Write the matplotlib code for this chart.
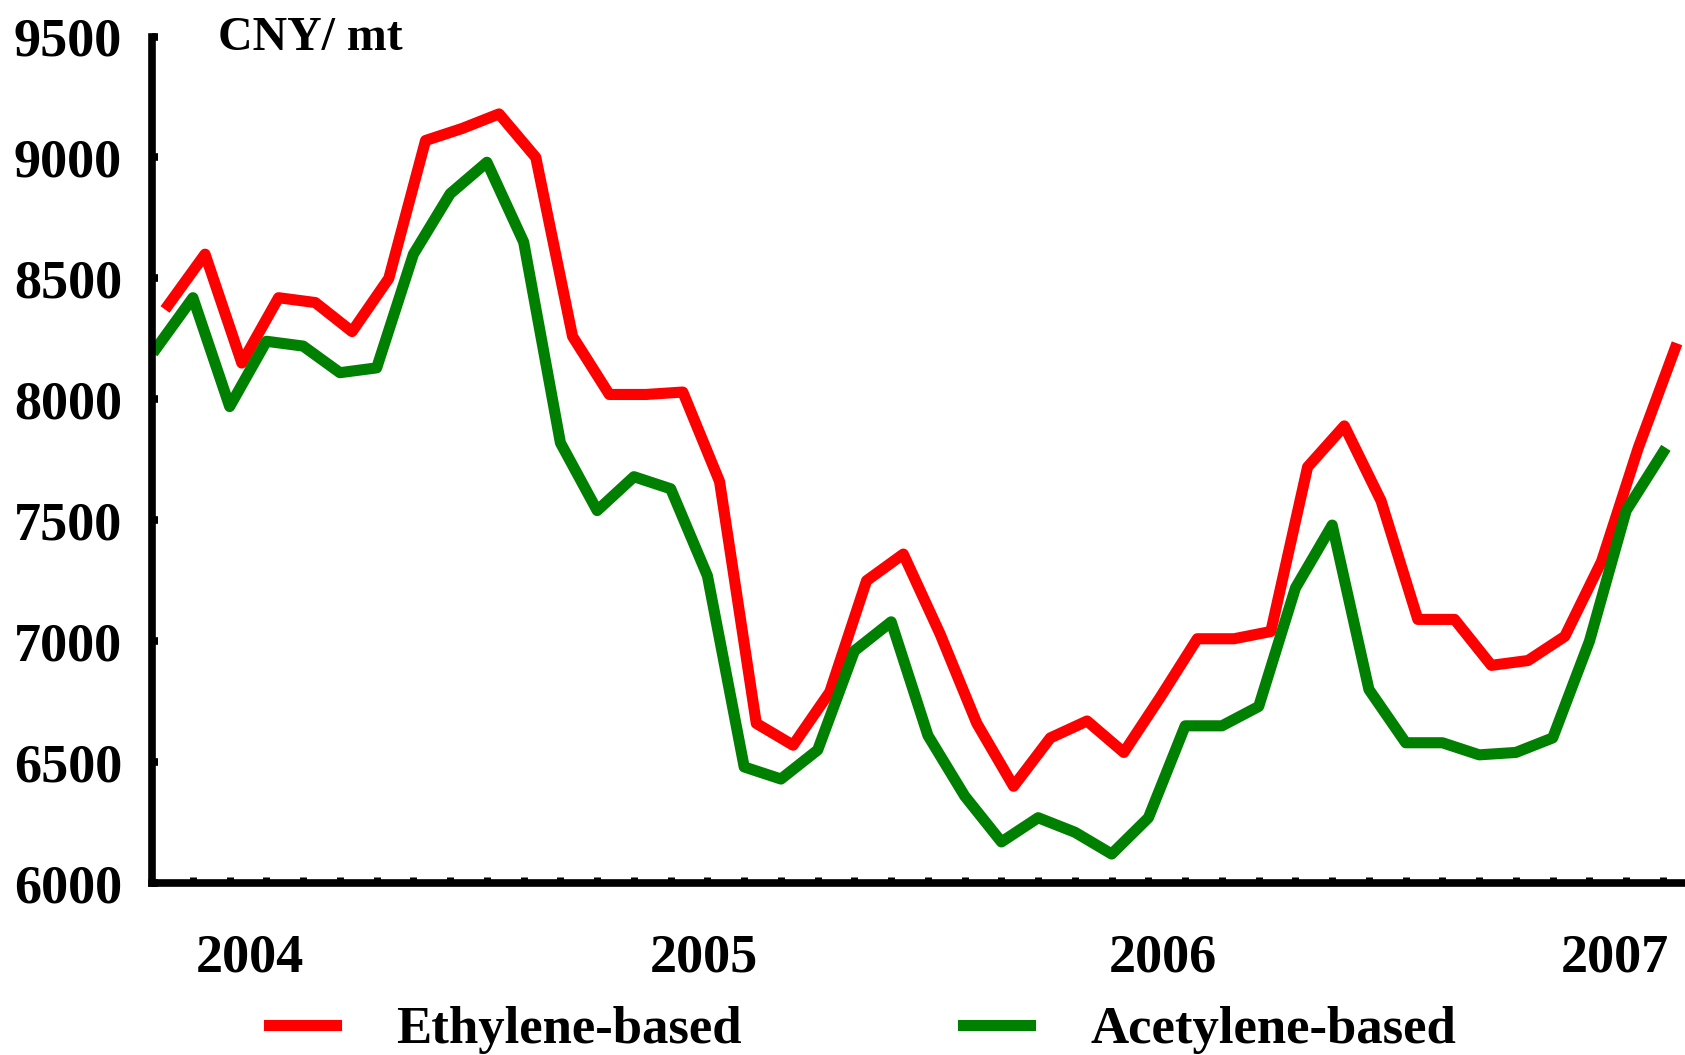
import numpy as np
import matplotlib
matplotlib.use('Agg')
import matplotlib.pyplot as plt

plt.rcParams['font.family'] = ['Liberation Serif', 'DejaVu Serif']
plt.rcParams['font.weight'] = 'bold'

# monthly prices, CNY/mt, Jan 2004 .. 2007
ethylene = [8390, 8600, 8150, 8420, 8400, 8280, 8500, 9070, 9120, 9180,
            9000, 8260, 8020, 8020, 8030, 7660, 6660, 6570, 6790, 7250,
            7360, 7030, 6660, 6400, 6600, 6670, 6540, 6770, 7010, 7010,
            7040, 7720, 7890, 7580, 7090, 7090, 6900, 6920, 7020, 7330,
            7800, 8210]
acetylene = [8210, 8420, 7970, 8240, 8220, 8110, 8130, 8600, 8850, 8980,
             8650, 7820, 7540, 7680, 7630, 7270, 6480, 6430, 6550, 6960,
             7080, 6610, 6360, 6170, 6270, 6210, 6120, 6270, 6650, 6650,
             6730, 7220, 7480, 6800, 6580, 6580, 6530, 6540, 6600, 7000,
             7540, 7780]
years = ['2004', '2005', '2006', '2007']
year_pos = [2.55, 14.9, 27.4, 39.7]
yticks = np.arange(6000, 9501, 500)

months = np.arange(len(acetylene))

fig = plt.figure(figsize=(16.85, 10.55), dpi=100)
ax = fig.add_axes([0.0905, 0.163, 0.9095, 0.8024])

ax.plot(months + 0.33, ethylene, color='#ff0000', lw=8, label='Ethylene-based')
ax.plot(months, acetylene, color='#008000', lw=8, label='Acetylene-based')

ax.set_xlim(-0.1, 41.6)
ax.set_ylim(6000, 9500)

for s in ['top', 'right']:
    ax.spines[s].set_visible(False)
for s in ['left', 'bottom']:
    ax.spines[s].set_linewidth(5.5)

ax.set_yticks(yticks)
ax.set_yticklabels([str(v) for v in yticks])
ax.tick_params(axis='y', direction='in', length=4, width=5.5, pad=22,
               labelsize=39)

ax.set_xticks(year_pos)
ax.set_xticklabels(years)
ax.set_xticks(np.arange(1, 42), minor=True)
ax.tick_params(axis='x', which='major', length=0, pad=36, labelsize=39)
ax.tick_params(axis='x', which='minor', direction='in', length=4, width=5)

fig.text(218 / 1685, 1 - 38 / 1055, 'CNY/ mt', fontsize=34.5,
         fontweight='bold', va='center', ha='left')

fig.legend(loc='center', ncol=2, bbox_to_anchor=(0.512, 1 - 1030 / 1055),
           frameon=False, fontsize=38, handlelength=1.26, handletextpad=1.14,
           columnspacing=4.2)

fig.savefig('out.png', dpi=100)
